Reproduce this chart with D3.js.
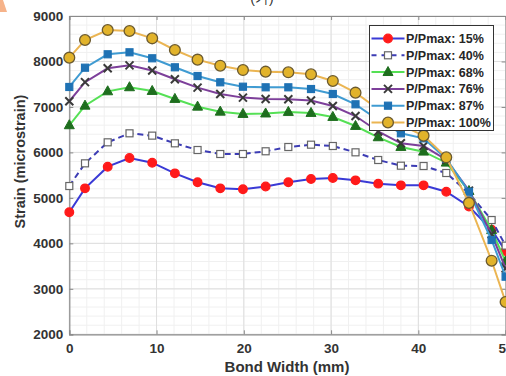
<!DOCTYPE html>
<html>
<head>
<meta charset="utf-8">
<script src="https://cdnjs.cloudflare.com/ajax/libs/d3/7.8.5/d3.min.js"></script>
<style>
  body { margin: 0; background: #fff; }
  svg { display: block; font-family: "Liberation Sans", Arial, sans-serif; }
</style>
</head>
<body>
<div id="chart"></div>
<script>
// Data
//=================================
var bondWidth = [0, 1.8, 4.4, 6.9, 9.5, 12.1, 14.7, 17.3, 19.9, 22.5, 25.1, 27.7, 30.2, 32.8, 35.4, 38.0, 40.6, 43.2, 45.8, 48.4, 50];

var p15  = [4683, 5210, 5686, 5877, 5774, 5540, 5343, 5210, 5189, 5250, 5343, 5415, 5437, 5386, 5313, 5276, 5276, 5135, 4810, 4300, 3830];
var p40  = [5261, 5760, 6222, 6420, 6369, 6200, 6053, 5965, 5965, 6025, 6119, 6170, 6141, 6002, 5833, 5708, 5701, 5547, 5100, 4513, 3950];
var p68  = [6596, 7027, 7343, 7432, 7350, 7175, 7005, 6895, 6845, 6855, 6889, 6867, 6779, 6581, 6332, 6119, 6016, 5774, 5150, 4290, 3600];
var p76  = [7125, 7545, 7850, 7915, 7800, 7610, 7425, 7285, 7205, 7175, 7170, 7140, 7020, 6800, 6460, 6200, 6140, 5840, 5160, 4200, 3450];
var p87  = [7439, 7863, 8158, 8202, 8070, 7872, 7680, 7542, 7445, 7432, 7432, 7394, 7285, 7058, 6713, 6420, 6310, 5860, 5135, 4074, 3267];
var p100 = [8084, 8472, 8692, 8670, 8509, 8252, 8040, 7907, 7812, 7776, 7762, 7718, 7571, 7314, 6950, 6600, 6369, 5892, 4890, 3618, 2710];

var seriesNames = ["P/Pmax: 15%", "P/Pmax: 40%", "P/Pmax: 68%", "P/Pmax: 76%", "P/Pmax: 87%", "P/Pmax: 100%"];
var xTicks = [0, 10, 20, 30, 40, 50];
var yTicks = [2000, 3000, 4000, 5000, 6000, 7000, 8000, 9000];

// styles per series (line colour, dash, marker)
var styles = [
  { line: "#3a3ad6", dash: null,  marker: "circle",   fill: "#ff1a1a", stroke: "#ff1a1a", size: 4.3 },
  { line: "#3c3cb4", dash: "6,4", marker: "square",   fill: "#ffffff", stroke: "#666666", size: 7 },
  { line: "#55e055", dash: null,  marker: "triangle", fill: "#1e6e1e", stroke: "#1e6e1e", size: 10 },
  { line: "#7d3f9a", dash: null,  marker: "cross",    fill: "none",    stroke: "#3a3a3a", size: 8 },
  { line: "#3f9bd2", dash: null,  marker: "square",   fill: "#1f72b4", stroke: "#1f72b4", size: 7 },
  { line: "#ebb552", dash: null,  marker: "circle",   fill: "#e2b32a", stroke: "#6b5a30", size: 5.4 }
];

//Prepare canvas
//=================================
var svgWidth = 506;
var svgHeight = 376;

var margin = { top: 16, right: 0.4, bottom: 41.7, left: 69.3 };
var width = svgWidth - margin.left - margin.right;
var height = svgHeight - margin.top - margin.bottom;

var svg = d3.select("#chart")
  .append("svg")
  .attr("width", svgWidth)
  .attr("height", svgHeight);

// little orange corner mark and the cut-off caption at the top
svg.append("polygon")
  .attr("points", "0,0 3,0 7,12 0,12")
  .attr("fill", "#f6b38a");

svg.append("text")
  .attr("x", 262)
  .attr("y", 3)
  .attr("text-anchor", "middle")
  .style("font-size", "14px")
  .style("fill", "#333")
  .text("(가)");

var chartGroup = svg.append("g")
  .attr("transform", `translate(${margin.left}, ${margin.top})`);

//Scales
//=================================
var xLinearScale = d3.scaleLinear().domain([0, 50]).range([0, width]);
var yLinearScale = d3.scaleLinear().domain([2000, 9000]).range([height, 0]);

//Grid lines (minor then major)
//=================================
var xMinor = d3.range(0, 51, 2);
var yMinor = d3.range(2000, 9001, 200);

chartGroup.append("g").selectAll("line")
  .data(xMinor)
  .enter()
  .append("line")
  .attr("x1", d => xLinearScale(d))
  .attr("x2", d => xLinearScale(d))
  .attr("y1", 0)
  .attr("y2", height)
  .attr("stroke", "#f0f0f0")
  .attr("stroke-width", 1);

chartGroup.append("g").selectAll("line")
  .data(yMinor)
  .enter()
  .append("line")
  .attr("x1", 0)
  .attr("x2", width)
  .attr("y1", d => yLinearScale(d))
  .attr("y2", d => yLinearScale(d))
  .attr("stroke", "#f0f0f0")
  .attr("stroke-width", 1);

chartGroup.append("g").selectAll("line")
  .data(xTicks)
  .enter()
  .append("line")
  .attr("x1", d => xLinearScale(d))
  .attr("x2", d => xLinearScale(d))
  .attr("y1", 0)
  .attr("y2", height)
  .attr("stroke", "#dedede")
  .attr("stroke-width", 1);

chartGroup.append("g").selectAll("line")
  .data(yTicks)
  .enter()
  .append("line")
  .attr("x1", 0)
  .attr("x2", width)
  .attr("y1", d => yLinearScale(d))
  .attr("y2", d => yLinearScale(d))
  .attr("stroke", "#dedede")
  .attr("stroke-width", 1);

//Axes
//=================================
var bottomAxis = d3.axisBottom(xLinearScale).tickValues(xTicks).tickSize(-4).tickPadding(9);
var leftAxis = d3.axisLeft(yLinearScale).tickValues(yTicks).tickSize(-4).tickPadding(6).tickFormat(d3.format("d"));
var topAxis = d3.axisTop(xLinearScale).tickValues(xTicks).tickSize(-4).tickFormat("");
var rightAxis = d3.axisRight(yLinearScale).tickValues(yTicks).tickSize(-4).tickFormat("");

function styleAxis(g) {
  g.select(".domain").attr("stroke", "#8a8a8a").attr("stroke-width", 1.2);
  g.selectAll(".tick line").attr("stroke", "#8a8a8a");
  g.selectAll(".tick text")
    .style("font-size", "13.5px")
    .style("font-weight", "bold")
    .style("fill", "#333");
}

chartGroup.append("g")
  .attr("transform", `translate(0, ${height})`)
  .call(bottomAxis)
  .call(styleAxis);

chartGroup.append("g")
  .call(leftAxis)
  .call(styleAxis);

chartGroup.append("g")
  .call(topAxis)
  .call(styleAxis);

chartGroup.append("g")
  .attr("transform", `translate(${width}, 0)`)
  .call(rightAxis)
  .call(styleAxis);

//Series
//=================================
var allSeries = [p15, p40, p68, p76, p87, p100];

var lineGen = d3.line()
  .x(d => xLinearScale(d.x))
  .y(d => yLinearScale(d.y));

function drawMarker(g, st, cx, cy) {
  var s = st.size;
  if (st.marker === "circle") {
    g.append("circle")
      .attr("cx", cx).attr("cy", cy).attr("r", s)
      .attr("fill", st.fill).attr("stroke", st.stroke).attr("stroke-width", 1.3);
  } else if (st.marker === "square") {
    g.append("rect")
      .attr("x", cx - s / 2).attr("y", cy - s / 2)
      .attr("width", s).attr("height", s)
      .attr("fill", st.fill).attr("stroke", st.stroke).attr("stroke-width", 1.2);
  } else if (st.marker === "triangle") {
    var h = s * 0.9;
    g.append("path")
      .attr("d", `M${cx},${cy - h * 0.62} L${cx + s / 2},${cy + h * 0.38} L${cx - s / 2},${cy + h * 0.38} Z`)
      .attr("fill", st.fill).attr("stroke", st.stroke).attr("stroke-width", 1);
  } else if (st.marker === "cross") {
    var r = s / 2;
    g.append("path")
      .attr("d", `M${cx - r},${cy - r} L${cx + r},${cy + r} M${cx - r},${cy + r} L${cx + r},${cy - r}`)
      .attr("stroke", st.stroke).attr("stroke-width", 2).attr("fill", "none");
  }
}

allSeries.forEach(function(vals, i) {
  var st = styles[i];
  var pts = bondWidth.map((x, j) => ({ x: x, y: vals[j] }));
  var g = chartGroup.append("g");

  g.append("path")
    .datum(pts)
    .attr("d", lineGen)
    .attr("fill", "none")
    .attr("stroke", st.line)
    .attr("stroke-width", 2)
    .attr("stroke-dasharray", st.dash);

  pts.forEach(function(p) {
    drawMarker(g, st, xLinearScale(p.x), yLinearScale(p.y));
  });
});

//Legend
//=================================
var legend = svg.append("g")
  .attr("transform", "translate(369.5, 25.5)");

legend.append("rect")
  .attr("width", 124)
  .attr("height", 105)
  .attr("fill", "#fff")
  .attr("stroke", "#333")
  .attr("stroke-width", 1);

seriesNames.forEach(function(name, i) {
  var st = styles[i];
  var ly = 13 + i * 16.8;
  legend.append("line")
    .attr("x1", 2).attr("x2", 35)
    .attr("y1", ly).attr("y2", ly)
    .attr("stroke", st.line)
    .attr("stroke-width", 2)
    .attr("stroke-dasharray", st.dash ? "5,5" : null);
  drawMarker(legend, st, 18.5, ly);
  legend.append("text")
    .attr("x", 36.5)
    .attr("y", ly + 4.5)
    .style("font-size", "12.5px")
    .style("font-weight", "bold")
    .style("fill", "#262626")
    .text(name);
});

//Axis labels
//=================================
svg.append("text")
  .attr("transform", `translate(25, ${161.5}) rotate(-90)`)
  .attr("text-anchor", "middle")
  .style("font-size", "14.5px")
  .style("font-weight", "bold")
  .style("fill", "#333")
  .text("Strain (microstrain)");

svg.append("text")
  .attr("x", 287)
  .attr("y", 372)
  .attr("text-anchor", "middle")
  .style("font-size", "15px")
  .style("font-weight", "bold")
  .style("fill", "#333")
  .text("Bond Width (mm)");
</script>
</body>
</html>
